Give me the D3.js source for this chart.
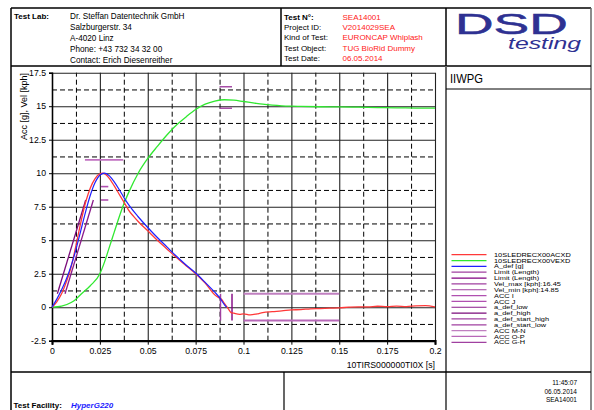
<!DOCTYPE html>
<html><head><meta charset="utf-8">
<script src="https://cdn.jsdelivr.net/npm/d3@7"></script>
<style>
body{margin:0;background:#fff}
svg{display:block}
text{font-family:"Liberation Sans",Arial,Helvetica,sans-serif}
</style></head>
<body><svg id="c" width="594" height="410"></svg>
<script>
// ---------- data ----------
const accTime = [0,0.0025,0.005,0.0075,0.01,0.0125,0.015,0.0175,0.02,0.0225,0.025,0.0265,0.028,0.03,0.0325,0.035,0.0375,0.039,0.04,0.0425,0.045,0.05,0.055,0.06,0.065,0.07,0.075,0.08,0.085,0.0875,0.0885,0.09,0.092,0.0935,0.095,0.098,0.1,0.1035,0.107,0.11,0.115,0.12,0.125,0.13,0.135,0.14,0.145,0.15,0.155,0.16,0.165,0.17,0.175,0.18,0.185,0.19,0.195,0.2];
const accValues = [0,0.4,1.0,1.9,3.0,4.6,6.3,7.8,8.9,9.6,9.95,10.0,9.9,9.6,9.05,8.45,7.85,7.5,7.25,6.8,6.4,5.7,5.0,4.35,3.7,3.1,2.5,1.8,0.92,0.68,0.6,0.28,-0.1,-0.4,-0.45,-0.53,-0.5,-0.58,-0.5,-0.4,-0.33,-0.28,-0.2,-0.18,-0.12,-0.1,-0.07,-0.05,0.0,0.03,0.02,0.07,0.04,0.08,0.05,0.1,0.12,0.02];

const velTime = [0,0.005,0.01,0.0125,0.015,0.02,0.025,0.0275,0.03,0.0325,0.035,0.0375,0.04,0.045,0.05,0.055,0.06,0.065,0.07,0.075,0.08,0.085,0.09,0.095,0.1,0.105,0.11,0.115,0.12,0.125,0.13,0.14,0.15,0.16,0.17,0.18,0.19,0.2];
const velValues = [0,0.08,0.35,0.6,0.95,1.6,2.5,3.4,4.5,5.6,6.7,7.7,8.55,10.0,11.1,12.0,12.85,13.6,14.2,14.75,15.15,15.38,15.48,15.45,15.35,15.25,15.15,15.08,15.03,15.0,14.98,14.96,14.95,14.93,14.9,14.88,14.86,14.85];

const adefTime = [0,0.0025,0.005,0.0075,0.01,0.0125,0.015,0.0175,0.02,0.0225,0.025,0.0275,0.03,0.0325,0.035,0.0375,0.04,0.045,0.05,0.055,0.06,0.065,0.07,0.075,0.08,0.085,0.0875,0.09,0.0912];
const adefValues = [0,0.6,1.3,2.1,3.1,4.3,5.7,7.1,8.35,9.3,9.85,10.0,9.8,9.35,8.8,8.2,7.65,6.75,5.95,5.2,4.5,3.8,3.15,2.55,1.85,1.12,0.72,0.2,0];

// limit / corridor segments: [t1, v1, t2, v2]
const limitLength1 = [0.088, -1, 0.088, 1];
const limitLength2 = [0.094, -1, 0.094, 1];
const velMax = [0.0875, 16.45, 0.094, 16.45];
const velMin = [0.0875, 14.85, 0.094, 14.85];
const accI = [0.0256, 9, 0.0294, 9];
const accJ = [0.0256, 8, 0.0294, 8];
const aDefLow = [0.0068, 1.0, 0.0216, 8.0];
const aDefHigh = [0.0028, 1.0, 0.0176, 8.0];
const accMN = [0.1, 1, 0.15, 1];
const accOP = [0.1, -1, 0.15, -1];
const accGH = [0.0172, 11, 0.0372, 11];

const xTicks = [0,0.025,0.05,0.075,0.1,0.125,0.15,0.175,0.2];
const xTickLabels = ["0","0.025","0.05","0.075","0.1","0.125","0.15","0.175","0.2"];
const xMinor = [0.0125,0.0375,0.0625,0.0875,0.1125,0.1375,0.1625,0.1875];
const yTicks = [-2.5,0,2.5,5,7.5,10,12.5,15,17.5];
const yTickLabels = ["-2.5","0","2.5","5","7.5","10","12.5","15","17.5"];
const yMinor = [-1.25,1.25,3.75,6.25,8.75,11.25,13.75,16.25];

const legendNames = ["10SLEDRECX00ACXD","10SLEDRECX00VEXD","A_def [g]","Limit (Length)","Limit (Length)","Vel_max [kph]:16.45","Vel_min [kph]:14.85","ACC I","ACC J","a_def_low","a_def_high","a_def_start_high","a_def_start_low","ACC M-N","ACC O-P","ACC G-H"];

const headerLabLines = ["Dr. Steffan Datentechnik GmbH","Salzburgerstr. 34","A-4020 Linz","Phone: +43 732 34 32 00","Contact: Erich Diesenreither"];
const testKeys = ["Test N°:","Project ID:","Kind of Test:","Test Object:","Test Date:"];
const testValues = ["SEA14001","V2014029SEA","EURONCAP Whiplash","TUG BioRid Dummy","06.05.2014"];
const stampLines = ["11:45:07","06.05.2014","SEA14001"];

// ---------- styles ----------
const legendColors = ["#ff3838","#30e830","#2020ff","#a040a0","#800080","#a040a0","#a040a0","#b050b0","#b050b0","#8a1a8a","#7a0a7a","#a040a0","#a040a0","#c080c0","#b868b8","#a040a0"];
const FONT = '"Liberation Sans",Arial,sans-serif';

const svg = d3.select("#c");
const x = d3.scaleLinear([0,0.2],[52,435]);
const y = d3.scaleLinear([-2.5,17.5],[340.7,72.7]);

// ---------- frame ----------
function ln(x1,y1,x2,y2,col,w){svg.append("line").attr("x1",x1).attr("y1",y1).attr("x2",x2).attr("y2",y2).attr("stroke",col).attr("stroke-width",w);}
ln(11,8,591,8,"#000",1.5);
ln(11,8,11,410,"#000",1.5);
ln(591,8,591,410,"#666",1.5);
ln(11,66,591,66,"#000",1.5);
ln(281,8,281,66,"#000",1.5);
ln(446,8,446,66,"#000",1.5);
ln(446,66,446,372,"#666",2);
ln(446,89,591,89,"#000",1);
ln(11,372,591,372,"#000",1.5);
ln(284,372,284,410,"#000",1.2);
ln(446,372,446,410,"#000",1.2);

// ---------- header ----------
svg.append("text").attr("x",14).attr("y",19).attr("font-size",8).attr("font-weight","bold").text("Test Lab:");
headerLabLines.forEach((t,i)=>svg.append("text").attr("x",70).attr("y",19+i*10.9).attr("font-size",8.2).text(t));
testKeys.forEach((t,i)=>svg.append("text").attr("x",284).attr("y",19.5+i*10.4).attr("font-size",8).attr("font-weight",i===0?"bold":"normal").text(t));
testValues.forEach((t,i)=>svg.append("text").attr("x",342.5).attr("y",19.5+i*10.4).attr("font-size",8).attr("fill","#ff2020").text(t));
svg.append("text").attr("transform","translate(455,33.5) scale(1.78,1)").attr("font-size",30).attr("fill","#2e3192").attr("stroke","#2e3192").attr("stroke-width",0.5).text("DSD");
svg.append("text").attr("transform","translate(508,49) scale(1.55,1)").attr("font-size",16).attr("font-style","italic").attr("fill","#2e3192").text("testing");

// ---------- right panel ----------
svg.append("text").attr("x",450).attr("y",83.3).attr("font-size",13.5).attr("textLength",33).attr("lengthAdjust","spacingAndGlyphs").text("IIWPG");

// ---------- grid ----------
const gMajX = svg.append("g").attr("transform","translate(0,340.7)")
  .call(d3.axisBottom(x).tickValues(xTicks).tickSize(-268).tickFormat(""));
gMajX.select(".domain").remove();
gMajX.selectAll("line").attr("stroke","#222").attr("stroke-width",1.1);
const gMinX = svg.append("g").attr("transform","translate(0,340.7)")
  .call(d3.axisBottom(x).tickValues(xMinor).tickSize(-268).tickFormat(""));
gMinX.select(".domain").remove();
gMinX.selectAll("line").attr("stroke","#000").attr("stroke-dasharray","5,3").attr("stroke-width",1);
const gMajY = svg.append("g").attr("transform","translate(52,0)")
  .call(d3.axisLeft(y).tickValues(yTicks).tickSize(-383).tickFormat(""));
gMajY.select(".domain").remove();
gMajY.selectAll("line").attr("stroke","#222").attr("stroke-width",1.1);
const gMinY = svg.append("g").attr("transform","translate(52,0)")
  .call(d3.axisLeft(y).tickValues(yMinor).tickSize(-383).tickFormat(""));
gMinY.select(".domain").remove();
gMinY.selectAll("line").attr("stroke","#000").attr("stroke-dasharray","5,3").attr("stroke-width",1);

// ---------- axes ----------
const xa = svg.append("g").attr("transform","translate(0,340.7)")
  .call(d3.axisBottom(x).tickValues(xTicks).tickSize(4).tickPadding(3).tickFormat((d,i)=>xTickLabels[i]));
xa.select(".domain").attr("stroke","#000").attr("stroke-width",2.2);
xa.selectAll("text").attr("font-size",8.7).attr("font-family",FONT).attr("fill","#000");
xa.selectAll("line").attr("stroke","#000");
const ya = svg.append("g").attr("transform","translate(52,0)")
  .call(d3.axisLeft(y).tickValues(yTicks).tickSize(3).tickPadding(3).tickFormat((d,i)=>yTickLabels[i]));
ya.select(".domain").attr("stroke","#000").attr("stroke-width",1.5);
ya.selectAll("text").attr("font-size",8.7).attr("font-family",FONT).attr("fill","#000");
ya.selectAll("line").attr("stroke","#000");

svg.append("text").attr("x",435).attr("y",367.5).attr("text-anchor","end").attr("font-size",8.7).text("10TIRS000000TI0X [s]");
svg.append("text").attr("transform","translate(26.5,73) rotate(-90)").attr("text-anchor","end").attr("font-size",9).text("Acc [g], Vel [kph]");

// ---------- limits ----------
function seg(s,col,w){svg.append("line").attr("x1",x(s[0])).attr("y1",y(s[1])).attr("x2",x(s[2])).attr("y2",y(s[3])).attr("stroke",col).attr("stroke-width",w);}
seg(accMN,legendColors[13],2);
seg(accOP,legendColors[14],2);
seg(accGH,"#c070c0",1.8);
seg(accI,legendColors[7],1.6);
seg(accJ,legendColors[8],1.6);
seg(velMax,legendColors[5],1.4);
seg(velMin,legendColors[6],1.4);
seg(aDefLow,legendColors[9],1.3);
seg(aDefHigh,legendColors[10],1.3);
seg(limitLength1,legendColors[3],1.4);
seg(limitLength2,legendColors[4],1.4);

// ---------- curves ----------
const line = d3.line().x(d=>x(d[0])).y(d=>y(d[1])).curve(d3.curveMonotoneX);
svg.append("path").attr("d",line(velTime.map((t,i)=>[t,velValues[i]]))).attr("fill","none").attr("stroke",legendColors[1]).attr("stroke-width",1.3);
svg.append("path").attr("d",line(accTime.map((t,i)=>[t,accValues[i]]))).attr("fill","none").attr("stroke",legendColors[0]).attr("stroke-width",1.3);
svg.append("path").attr("d",line(adefTime.map((t,i)=>[t,adefValues[i]]))).attr("fill","none").attr("stroke",legendColors[2]).attr("stroke-width",1.2);

// ---------- legend ----------
const lg = svg.append("g");
legendNames.forEach((n,i)=>{
  const yy = 254.7 + i*5.84;
  lg.append("line").attr("x1",451.5).attr("x2",486.5).attr("y1",yy).attr("y2",yy).attr("stroke",legendColors[i]).attr("stroke-width",1.2);
  lg.append("text").attr("transform",`translate(494,${yy+2.1}) scale(1.32,1)`).attr("font-size",5.6).text(n);
});

// ---------- footer ----------
svg.append("text").attr("x",13.5).attr("y",408).attr("font-size",8).attr("font-weight","bold").text("Test Facility:");
svg.append("text").attr("x",71).attr("y",408).attr("font-size",8).attr("font-weight","bold").attr("font-style","italic").attr("fill","#1a1aff").text("HyperG220");
stampLines.forEach((t,i)=>svg.append("text").attr("x",577).attr("y",385+i*8.5).attr("text-anchor","end").attr("font-size",6.5).text(t));
</script></body></html>
